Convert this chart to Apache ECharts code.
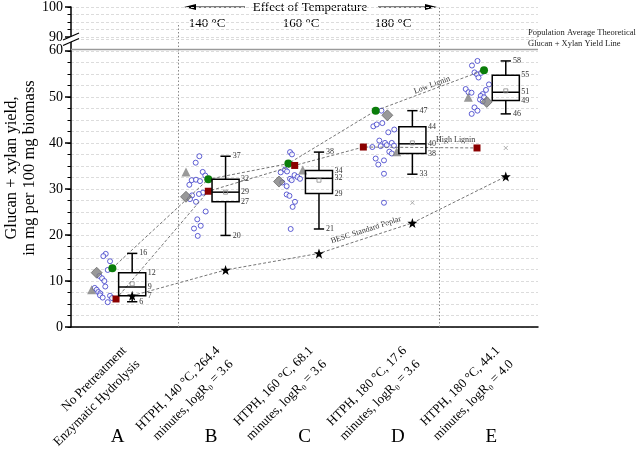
<!DOCTYPE html>
<html><head><meta charset="utf-8">
<script src="https://cdn.jsdelivr.net/npm/echarts@6/dist/echarts.min.js"></script>
<style>html,body{margin:0;padding:0;background:#fff}#c{width:638px;height:453px}</style>
</head><body><div id="c"></div>
<script>
// ---------- DATA ----------
const categories = [
  'No Pretreatment\nEnzymatic Hydrolysis',
  'HTPH, 140 °C, 264.4\nminutes, logR\u2080 = 3.6',
  'HTPH, 160 °C, 68.1\nminutes, logR\u2080 = 3.6',
  'HTPH, 180 °C, 17.6\nminutes, logR\u2080 = 3.6',
  'HTPH, 180 °C, 44.1\nminutes, logR\u2080 = 4.0'
];
const letters = ['A', 'B', 'C', 'D', 'E'];
const temperatures = ['140 °C', '160 °C', '180 °C'];
const yTitle = ['Glucan + xylan yield,', 'in mg per 100 mg biomass'];

// box statistics
const whiskerLow  = [5.5, 19.9, 21.3, 33.2, 46.3];
const q1          = [6.8, 27.2, 29.0, 37.7, 49.2];
const median      = [8.7, 29.3, 32.3, 39.8, 51.0];
const q3          = [11.8, 32.1, 34.0, 43.5, 54.7];
const whiskerHigh = [16.0, 37.1, 38.0, 47.0, 57.8];
const means       = [9.4, 29.3, 31.9, 40.0, 51.3];
const outliers    = [null, null, null, 27.0, 38.9];
const lowLabels  = ['6', '20', '21', '33', '46'];
const q1Labels   = ['7', '27', '29', '38', '49'];
const medLabels  = ['9', '29', '32', '40', '51'];
const q3Labels   = ['12', '32', '34', '44', '55'];
const highLabels = ['16', '37', '38', '47', '58'];

// individual samples: [jitter within category, yield]
const pointsA = [[-0.128,15.9],[-0.154,15.4],[-0.082,14.3],[-0.107,12.4],[-0.197,11.1],[-0.168,10.6],[-0.143,10.0],
  [-0.133,8.8],[-0.246,8.5],[-0.225,8.1],[-0.208,7.6],[-0.186,7.3],[-0.190,6.9],[-0.161,6.4],[-0.082,6.8],[-0.061,6.3],[-0.107,5.4]];
const pointsB = [[-0.126,37.1],[-0.165,35.7],[-0.090,33.7],[-0.062,32.9],[-0.208,31.9],[-0.162,32.0],[-0.119,31.7],
  [-0.233,30.9],[-0.087,29.2],[-0.130,28.9],[-0.204,28.6],[-0.226,27.8],[-0.162,27.2],[-0.058,25.1],[-0.148,23.4],
  [-0.111,22.0],[-0.183,21.4],[-0.143,19.8]];
const pointsC = [[-0.155,38.0],[-0.134,37.5],[-0.255,33.6],[-0.209,34.2],[-0.187,33.8],[-0.155,32.2],[-0.137,31.9],
  [-0.107,33.0],[-0.075,32.6],[-0.048,32.2],[-0.238,31.4],[-0.191,30.6],[-0.191,28.8],[-0.161,28.5],[-0.102,27.2],
  [-0.127,26.1],[-0.148,21.3]];
const pointsD = [[-0.176,47.0],[-0.263,43.6],[-0.227,44.0],[-0.167,44.3],[-0.039,42.9],[-0.103,42.3],[-0.199,40.5],
  [-0.274,39.1],[-0.184,39.3],[-0.138,40.0],[-0.120,39.5],[-0.066,40.0],[-0.042,39.4],[-0.092,38.1],[-0.066,37.7],
  [-0.238,36.6],[-0.149,36.2],[-0.210,35.3],[-0.149,33.3],[-0.149,27.0]];
const pointsE = [[-0.148,57.8],[-0.207,56.8],[-0.180,55.3],[-0.153,54.9],[-0.110,55.2],[-0.137,54.2],[-0.025,52.7],
  [-0.057,51.5],[-0.274,51.7],[-0.244,51.0],[-0.212,50.9],[-0.092,50.6],[-0.113,50.2],[-0.078,49.9],[-0.121,49.4],
  [-0.092,49.0],[-0.180,47.7],[-0.148,47.0],[-0.210,46.3]];

// highlighted samples: [jitter, yield] per category
const lowLignin  = [[-0.057,12.8],[-0.030,32.1],[-0.173,35.5],[-0.238,47.0],[-0.078,55.8]];
const highLignin = [[-0.018,6.1],[-0.030,29.5],[-0.105,35.1],[-0.370,39.1],[-0.153,38.9]];
const triangles  = [[-0.279,8.1],[-0.269,33.7],[-0.019,34.1],[-0.013,38.1],[-0.246,49.9]];
const diamonds   = [[-0.225,11.8],[-0.269,28.3],[-0.273,31.6],[-0.113,46.0],[-0.049,48.9]];
const bescStandard = [6.8, 12.4, 16.0, 22.6, 32.7];

const theoreticalYield = 60.4;
const dividerPositions = [1.146, 3.94];   // in category units
const dividerUpperTops = [94.7, 100];

// ---------- STYLE / LAYOUT ----------
const FONT = '"Liberation Serif", "Times New Roman", serif';
const BOX_SHIFT = 0.155, BOX_HALF = 0.145, CAP_HALF = 0.055;
const LOW_MAX = 62.5;
const toXY = (pts, k) => pts.map(p => [k + 0.5 + p[0], p[1]]);
const oneEach = (pts) => pts.map((p, k) => [k + 0.5 + p[0], p[1]]);
const allPoints = [].concat(toXY(pointsA,0), toXY(pointsB,1), toXY(pointsC,2), toXY(pointsD,3), toXY(pointsE,4));

function starPath() {
  let d = '';
  for (let i = 0; i < 10; i++) {
    const r = i % 2 ? 0.4 : 1;
    const a = -Math.PI / 2 + i * Math.PI / 5;
    d += (i ? 'L' : 'M') + (r * Math.cos(a)).toFixed(3) + ',' + (r * Math.sin(a)).toFixed(3);
  }
  return 'path://' + d + 'Z';
}

function renderBox(params, api) {
  const k = params.dataIndex;
  const cx = k + 0.5 + BOX_SHIFT;
  const P = (dx, v) => api.coord([cx + dx, v]);
  const stroke = '#000', lw = 1.5;
  const line = (p1, p2, extra) => ({type: 'line', shape: {x1: p1[0], y1: p1[1], x2: p2[0], y2: p2[1]},
    style: Object.assign({stroke: stroke, lineWidth: lw}, extra || {})});
  const tl = P(-BOX_HALF, q3[k]), br = P(BOX_HALF, q1[k]);
  const ch = [
    line(P(0, q3[k]), P(0, whiskerHigh[k])),
    line(P(0, q1[k]), P(0, whiskerLow[k])),
    line(P(-CAP_HALF, whiskerHigh[k]), P(CAP_HALF, whiskerHigh[k])),
    line(P(-CAP_HALF, whiskerLow[k]), P(CAP_HALF, whiskerLow[k])),
    {type: 'rect', shape: {x: tl[0], y: tl[1], width: br[0] - tl[0], height: br[1] - tl[1]},
      style: {fill: 'rgba(255,255,255,0)', stroke: stroke, lineWidth: lw}},
    line(P(-BOX_HALF, median[k]), P(BOX_HALF, median[k]))
  ];
  const m = P(0, means[k]);
  ch.push({type: 'rect', shape: {x: m[0] - 2, y: m[1] - 2, width: 4, height: 4},
    style: {fill: 'rgba(255,255,255,0)', stroke: '#888', lineWidth: 0.8}});
  if (outliers[k] != null) {
    const o = P(0, outliers[k]);
    ch.push(line([o[0]-2, o[1]-2], [o[0]+2, o[1]+2], {stroke: '#999', lineWidth: 0.8}));
    ch.push(line([o[0]-2, o[1]+2], [o[0]+2, o[1]-2], {stroke: '#999', lineWidth: 0.8}));
  }
  const txt = (p, s) => ({type: 'text', x: p[0] + 2, y: p[1],
    style: {text: s, fill: '#333', font: '8px ' + FONT, textVerticalAlign: 'middle', verticalAlign: 'middle', textAlign: 'left', align: 'left'}});
  ch.push(txt(P(CAP_HALF, whiskerHigh[k]), highLabels[k]));
  ch.push(txt(P(BOX_HALF, q3[k]), q3Labels[k]));
  ch.push(txt(P(BOX_HALF, median[k]), medLabels[k]));
  ch.push(txt(P(BOX_HALF, q1[k]), q1Labels[k]));
  ch.push(txt(P(CAP_HALF, whiskerLow[k]), lowLabels[k]));
  return {type: 'group', children: ch};
}

const dashed = {color: '#666', width: 0.9, type: [3, 2]};
const gridLine = {show: true, lineStyle: {color: '#dcdcdc', width: 1, type: [3, 2]}};
const blackLine = {color: '#000', width: 1.5};
const dividerStyle = {color: '#888', type: [1.5, 2], width: 1};

const lowerMarks = [[{coord: [0, theoreticalYield]}, {coord: [5, theoreticalYield]}]];
dividerPositions.forEach((x) => lowerMarks.push([{coord: [x, 0], lineStyle: dividerStyle}, {coord: [x, LOW_MAX]}]));
const upperMarks = dividerPositions.map((x, i) => [{coord: [x, 90], lineStyle: dividerStyle}, {coord: [x, dividerUpperTops[i]]}]);

const textEl = (x, y, text, size, extra) => Object.assign({type: 'text', x: x, y: y,
  style: Object.assign({text: text, font: size + 'px ' + FONT, fill: '#000',
    textAlign: 'center', align: 'center', textVerticalAlign: 'middle', verticalAlign: 'middle'}, (extra && extra.style) || {})},
  extra ? {rotation: extra.rotation || 0} : {});

const option = {
  animation: false,
  textStyle: {fontFamily: FONT},
  grid: [
    {left: 71, right: 100, top: 39.3, bottom: 124.5},
    {left: 71, right: 100, top: 7, height: 30}
  ],
  xAxis: [
    {gridIndex: 0, type: 'value', min: 0, max: 5, show: false},
    {gridIndex: 0, type: 'category', data: categories, position: 'bottom',
      axisLine: {lineStyle: blackLine}, axisTick: {alignWithLabel: true, length: 6, lineStyle: blackLine},
      axisLabel: {rotate: 45, fontFamily: FONT, fontSize: 13, lineHeight: 19, color: '#000', margin: 15,
        align: 'right', verticalAlign: 'top', interval: 0},
      splitLine: {show: false}},
    {gridIndex: 0, type: 'category', data: letters, position: 'bottom', offset: 92,
      axisLine: {show: false}, axisTick: {show: false}, splitLine: {show: false},
      axisLabel: {fontFamily: FONT, fontSize: 19, color: '#000', margin: 8, interval: 0}},
    {gridIndex: 1, type: 'value', min: 0, max: 5, show: false}
  ],
  yAxis: [
    {gridIndex: 0, type: 'value', min: 0, max: LOW_MAX, interval: 2.5,
      axisLine: {show: true, lineStyle: blackLine}, axisTick: {show: true, length: 3.5, lineStyle: {color: '#000', width: 1}},
      axisLabel: {fontFamily: FONT, fontSize: 14, color: '#000', margin: 8,
        formatter: v => (v % 10 === 0 ? String(v) : '')},
      splitLine: gridLine},
    {gridIndex: 0, type: 'value', min: 0, max: LOW_MAX, interval: 10, position: 'left',
      axisLine: {show: false}, axisTick: {show: true, length: 6, lineStyle: blackLine},
      axisLabel: {show: false}, splitLine: {show: false}},
    {gridIndex: 1, type: 'value', min: 90, max: 100, interval: 2.5,
      axisLine: {show: true, lineStyle: blackLine}, axisTick: {show: true, length: 3.5, lineStyle: {color: '#000', width: 1}},
      axisLabel: {fontFamily: FONT, fontSize: 14, color: '#000', margin: 8,
        formatter: v => (v % 10 === 0 ? String(v) : '')},
      splitLine: gridLine},
    {gridIndex: 1, type: 'value', min: 90, max: 100, interval: 10, position: 'left',
      axisLine: {show: false}, axisTick: {show: true, length: 6, lineStyle: blackLine},
      axisLabel: {show: false}, splitLine: {show: false}}
  ],
  series: [
    {type: 'line', name: 'BESC Standard Poplar', xAxisIndex: 0, yAxisIndex: 0, z: 3,
      data: bescStandard.map((v, k) => [k + 0.5 + BOX_SHIFT, v]),
      symbol: starPath(), symbolSize: 10, itemStyle: {color: '#000'}, lineStyle: dashed,
      markLine: {silent: true, symbol: 'none', label: {show: false}, animation: false,
        lineStyle: {color: '#9a9a9a', width: 1.3, type: 'solid'}, data: lowerMarks}},
    {type: 'line', name: 'dividers', xAxisIndex: 3, yAxisIndex: 2, data: [], symbol: 'none',
      markLine: {silent: true, symbol: 'none', label: {show: false}, animation: false, data: upperMarks}},
    {type: 'line', name: 'Low Lignin', xAxisIndex: 0, yAxisIndex: 0, z: 3, data: oneEach(lowLignin),
      symbol: 'circle', symbolSize: 8, itemStyle: {color: '#0a7d0a'}, lineStyle: dashed},
    {type: 'line', name: 'High Lignin', xAxisIndex: 0, yAxisIndex: 0, z: 3, data: oneEach(highLignin),
      symbol: 'rect', symbolSize: 7, itemStyle: {color: '#8b0000'}, lineStyle: dashed},
    {type: 'scatter', xAxisIndex: 0, yAxisIndex: 0, z: 2, data: allPoints, symbol: 'circle', symbolSize: 5,
      itemStyle: {color: '#fff', borderColor: '#3838c8', borderWidth: 1}},
    {type: 'scatter', xAxisIndex: 0, yAxisIndex: 0, z: 4, data: oneEach(triangles), symbol: 'triangle', symbolSize: 9,
      itemStyle: {color: '#808080'}},
    {type: 'scatter', xAxisIndex: 0, yAxisIndex: 0, z: 4, data: oneEach(diamonds), symbol: 'diamond', symbolSize: 11,
      itemStyle: {color: '#7f7f7f', borderColor: '#555', borderWidth: 0.8}},
    {type: 'custom', xAxisIndex: 0, yAxisIndex: 0, z: 5, renderItem: renderBox,
      data: categories.map((c, k) => [k + 0.5 + BOX_SHIFT, whiskerLow[k], whiskerHigh[k]]),
      encode: {x: 0, y: [1, 2]}}
  ],
  graphic: [
    {type: 'polygon', z: 100, shape: {points: [[63, 40], [79, 33], [79, 38.5], [63, 45.5]]}, style: {fill: '#fff'}},
    {type: 'line', z: 101, shape: {x1: 63, y1: 40, x2: 79, y2: 33}, style: {stroke: '#000', lineWidth: 1.3}},
    {type: 'line', z: 101, shape: {x1: 63, y1: 45.5, x2: 79, y2: 38.5}, style: {stroke: '#000', lineWidth: 1.3}},
    {type: 'line', shape: {x1: 193, y1: 7, x2: 245, y2: 7}, style: {stroke: '#000', lineWidth: 1.2}},
    {type: 'polygon', shape: {points: [[184, 7], [196, 4], [196, 10]]}, style: {fill: '#000'}},
    {type: 'line', shape: {x1: 378, y1: 7, x2: 428, y2: 7}, style: {stroke: '#000', lineWidth: 1.2}},
    {type: 'polygon', shape: {points: [[437, 7], [425, 4], [425, 10]]}, style: {fill: '#000'}},
    textEl(310, 8, 'Effect of Temperature', 13),
    textEl(207, 24, temperatures[0], 13),
    textEl(301, 24, temperatures[1], 13),
    textEl(393, 24, temperatures[2], 13),
    textEl(528, 38.5, 'Population Average Theoretical\nGlucan + Xylan Yield Line', 8.5,
      {style: {align: 'left', textAlign: 'left', lineHeight: 10.5, fill: '#222'}}),
    textEl(432, 85, 'Low Lignin', 8, {rotation: 20.6 * Math.PI / 180, style: {fill: '#333'}}),
    textEl(436, 140, 'High Lignin', 8, {style: {fill: '#333', align: 'left', textAlign: 'left'}}),
    textEl(366, 230, 'BESC Standard Poplar', 8, {rotation: 18 * Math.PI / 180, style: {fill: '#333'}}),
    textEl(12, 168, yTitle[0], 16.5, {rotation: Math.PI / 2}),
    textEl(30, 168, yTitle[1], 16.5, {rotation: Math.PI / 2})
  ]
};
const chart = echarts.init(document.getElementById('c'), null, {renderer: 'canvas'});
chart.setOption(option);
</script>
</body></html>
